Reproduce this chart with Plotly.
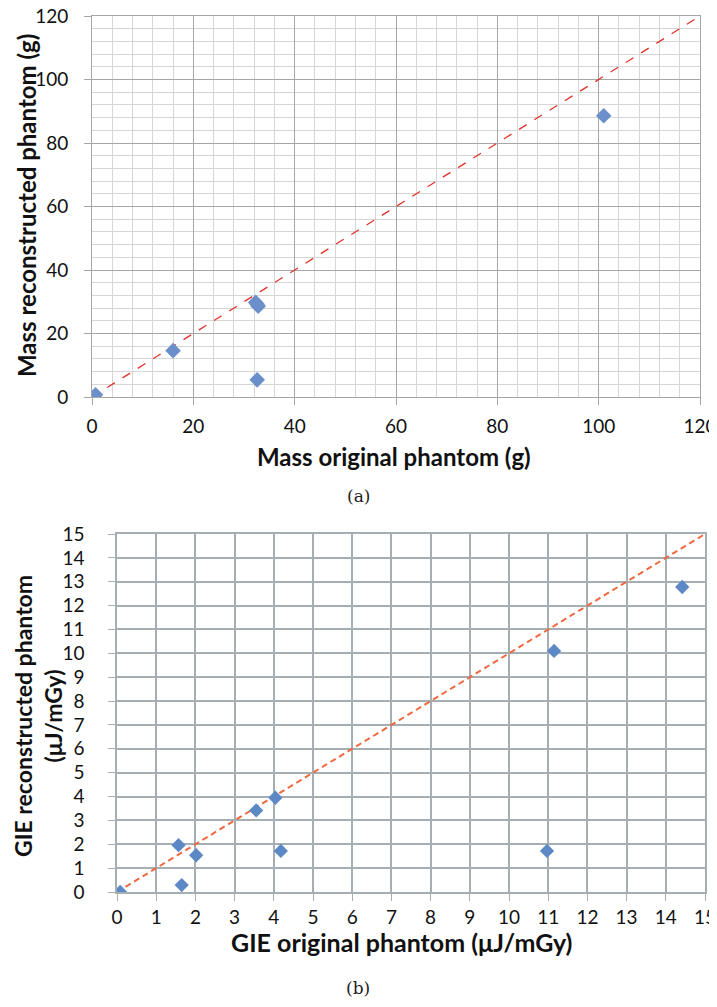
import plotly.graph_objects as go

# ---- data: (a) mass ----
mass_orig = [0.7, 16.0, 32.3, 32.8, 32.6, 32.6, 101.0]
mass_recon = [0.7, 14.6, 29.8, 28.6, 29.2, 5.4, 88.6]
mass_ref = [0, 120]

# ---- data: (b) GIE ----
gie_orig = [0.08, 1.57, 1.65, 2.02, 3.55, 4.04, 4.18, 10.97, 11.15, 14.42]
gie_recon = [0.0, 1.96, 0.29, 1.54, 3.42, 3.95, 1.72, 1.72, 10.1, 12.78]
gie_ref = [0, 15]

OFF = 8  # page body margin in the browser
W, H = 717 - OFF, 1007 - 2 * OFF  # keep page free of scrollbars
FONT = "Lato"

fig = go.Figure()

# top panel
fig.add_trace(go.Scatter(x=mass_ref, y=mass_ref, mode="lines",
                         line=dict(color="#e2332b", width=1.3, dash="dash"),
                         xaxis="x", yaxis="y", hoverinfo="skip"))
fig.add_trace(go.Scatter(x=mass_orig, y=mass_recon, mode="markers",
                         marker=dict(symbol="diamond", size=12, color="#6a8fca"),
                         xaxis="x", yaxis="y"))
# bottom panel
fig.add_trace(go.Scatter(x=gie_ref, y=gie_ref, mode="lines",
                         line=dict(color="#ef6840", width=2, dash="6px,4px"),
                         xaxis="x2", yaxis="y2", hoverinfo="skip"))
fig.add_trace(go.Scatter(x=gie_orig, y=gie_recon, mode="markers",
                         marker=dict(symbol="diamond", size=11, color="#5d88c6"),
                         xaxis="x2", yaxis="y2"))


def px_x(p):
    return (p - OFF) / W


def px_y(p):
    return 1 - (p - OFF) / H


tickfont_a = dict(family=FONT, size=19, color="#111")
tickfont_b = dict(family=FONT, size=19, color="#111")

common = dict(automargin=False, zeroline=False, ticklabeloverflow="allow",
              ticks="outside", ticklen=7, showgrid=True, showline=True, mirror=True)

fig.update_layout(
    width=W, height=H,
    margin=dict(l=0, r=0, t=0, b=0, autoexpand=False),
    paper_bgcolor="white", plot_bgcolor="white",
    showlegend=False,
    xaxis=dict(domain=[px_x(92), px_x(700)], anchor="y", range=[0, 120],
               tick0=0, dtick=20, gridcolor="#a6a6a6", gridwidth=1,
               minor=dict(dtick=4, showgrid=True, gridcolor="#d6d6d6", gridwidth=1),
               linecolor="#a6a6a6", tickcolor="#a6a6a6",
               tickfont=tickfont_a, ticklabelstandoff=5, **common),
    yaxis=dict(domain=[px_y(397), px_y(16)], anchor="x", range=[0, 120],
               tick0=0, dtick=20, gridcolor="#a6a6a6", gridwidth=1,
               minor=dict(dtick=4, showgrid=True, gridcolor="#d6d6d6", gridwidth=1),
               linecolor="#a6a6a6", tickcolor="#a6a6a6",
               tickfont=tickfont_a, ticklabelstandoff=12, **common),
    xaxis2=dict(domain=[px_x(117), px_x(705)], anchor="y2", range=[0, 15],
                tick0=0, dtick=1, gridcolor="#a5aeb2", gridwidth=1.5,
                linecolor="#a5aeb2", linewidth=1.5, tickcolor="#a5aeb2",
                tickfont=tickfont_b, ticklabelstandoff=0, **common),
    yaxis2=dict(domain=[px_y(892), px_y(534)], anchor="x2", range=[0, 15],
                tick0=0, dtick=1, gridcolor="#a5aeb2", gridwidth=1.5,
                linecolor="#a5aeb2", linewidth=1.5, tickcolor="#a5aeb2",
                tickfont=tickfont_b, ticklabelstandoff=20, **common),
)

title_a = dict(family=FONT, size=24, color="#111")
title_yb = dict(family=FONT, size=23, color="#111")
title_b = dict(family=FONT, size=25, color="#111")
serif = dict(family="DejaVu Serif", size=17, color="#222")

ann = [
    dict(text="<b>Mass original phantom (g)</b>", x=px_x(394), y=px_y(456), font=title_a),
    dict(text="<b>Mass reconstructed phantom (g)</b>", x=px_x(26), y=px_y(206), font=title_a,
         textangle=-90),
    dict(text="(a)", x=px_x(358), y=px_y(496), font=serif),
    dict(text="<b>GIE original phantom (μJ/mGy)</b>", x=px_x(401), y=px_y(942), font=title_b),
    dict(text="<b>GIE reconstructed phantom<br>(μJ/mGy)</b>", x=px_x(38), y=px_y(716),
         font=title_yb, textangle=-90),
    dict(text="(b)", x=px_x(358), y=px_y(988), font=serif),
]
for a in ann:
    a.update(xref="paper", yref="paper", showarrow=False, xanchor="center", yanchor="middle")
    fig.add_annotation(**a)

fig.write_html("out.html")
